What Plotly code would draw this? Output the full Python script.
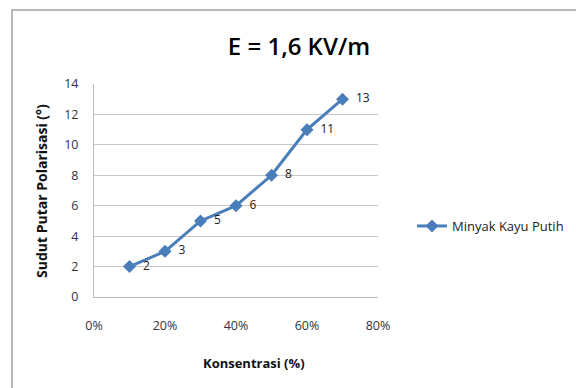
import plotly.graph_objects as go

konsentrasi = [0.1, 0.2, 0.3, 0.4, 0.5, 0.6, 0.7]
sudut = [2, 3, 5, 6, 8, 11, 13]
series_name = "Minyak Kayu Putih"
labels = ["  " + str(v) for v in sudut]

W, H = 576, 388
L, R, T, B = 94, 378, 84, 297
pw, ph = R - L, B - T

def px(x):
    return (x - L) / pw

def py(y):
    return (B - y) / ph

font_family = "Open Sans, Noto Sans, sans-serif"
blue = "#4A7EBB"

fig = go.Figure()
fig.add_trace(go.Scatter(
    x=konsentrasi, y=sudut, mode="lines+markers+text", name=series_name,
    text=labels, textposition="middle right",
    textfont=dict(size=12, color="#222222", family=font_family),
    line=dict(color=blue, width=3),
    marker=dict(symbol="diamond", size=10, color=blue),
    cliponaxis=False,
))

fig.update_layout(
    width=W, height=H,
    margin=dict(l=L, r=W - R, t=T, b=H - B, autoexpand=False),
    paper_bgcolor="white", plot_bgcolor="white",
    font=dict(family=font_family, color="#222222"),
    title=dict(text="E = 1,6 KV/m", x=299 / W, xanchor="center",
               y=1 - 47 / H, yanchor="middle",
               font=dict(size=24, color="#000000", family=font_family, weight=600)),
    showlegend=True,
    legend=dict(x=px(412), y=py(226), xanchor="left", yanchor="middle",
                font=dict(size=13, color="#222222", family=font_family),
                bgcolor="rgba(0,0,0,0)", itemwidth=30),
    xaxis=dict(range=[0, 0.8], tickvals=[0, 0.2, 0.4, 0.6, 0.8],
               ticktext=["0%", "20%", "40%", "60%", "80%"],
               showgrid=False, zeroline=False, showline=True,
               linecolor="#BBBBBB", linewidth=1, automargin=False,
               ticks="outside", ticklen=17, tickcolor="rgba(0,0,0,0)",
               tickfont=dict(size=12.5, color="#333333"), fixedrange=True),
    yaxis=dict(range=[0, 14], dtick=2, showgrid=True, gridcolor="#C8C8C8",
               gridwidth=1, zeroline=False, showline=True,
               linecolor="#BBBBBB", linewidth=1, automargin=False,
               ticks="outside", ticklen=12, tickcolor="rgba(0,0,0,0)",
               tickfont=dict(size=12.5, color="#333333"), fixedrange=True),
)

# Axis titles placed as annotations (matching reference positions)
fig.add_annotation(text="<b>Konsentrasi (%)</b>", xref="paper", yref="paper",
                   x=px(254), y=py(363), showarrow=False,
                   xanchor="center", yanchor="middle",
                   font=dict(size=13, color="#111111", family=font_family))
fig.add_annotation(text="<b>Sudut Putar Polarisasi (°)</b>", xref="paper", yref="paper",
                   x=px(41), y=py(191), showarrow=False, textangle=-90,
                   xanchor="center", yanchor="middle",
                   font=dict(size=14, color="#111111", family=font_family))

# Chart border (cut off at right and bottom like the reference)
fig.add_shape(type="rect", xref="paper", yref="paper",
              x0=px(12), x1=px(W + 20), y0=py(H + 20), y1=py(10),
              line=dict(color="#A0A0A0", width=1.5), fillcolor="rgba(0,0,0,0)", layer="below")

fig.write_html("out.html", config={"displayModeBar": False},
               post_script="document.body.style.margin='0';document.body.style.overflow='hidden';")
